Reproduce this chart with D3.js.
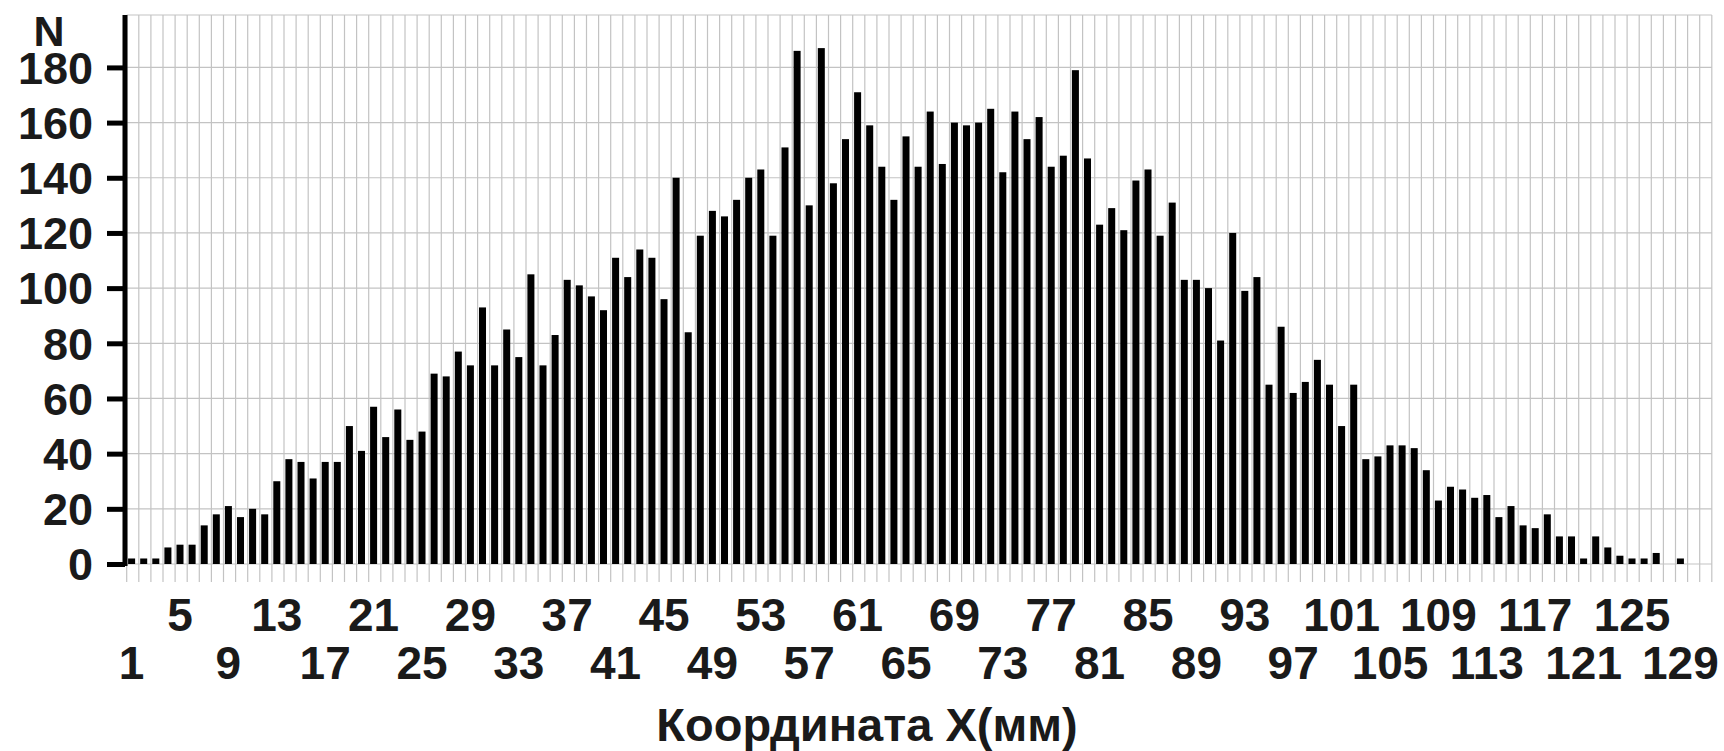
<!DOCTYPE html>
<html>
<head>
<meta charset="utf-8">
<script src="https://cdn.jsdelivr.net/npm/d3@7"></script>
<style>
  html, body { margin: 0; padding: 0; background: #ffffff; }
  svg { display: block; }
  text { font-family: "Liberation Sans", Arial, sans-serif; font-weight: bold; fill: #1a1a1a; }
</style>
</head>
<body>
<svg id="chart" width="1724" height="751"></svg>
<script>
// Counts per X coordinate bin (mm), bins 1..129
const bins = d3.range(1, 130);
const counts = [
  2, 2, 2, 6, 7, 7, 14, 18, 21, 17,
  20, 18, 30, 38, 37, 31, 37, 37, 50, 41,
  57, 46, 56, 45, 48, 69, 68, 77, 72, 93,
  72, 85, 75, 105, 72, 83, 103, 101, 97, 92,
  111, 104, 114, 111, 96, 140, 84, 119, 128, 126,
  132, 140, 143, 119, 151, 186, 130, 187, 138, 154,
  171, 159, 144, 132, 155, 144, 164, 145, 160, 159,
  160, 165, 142, 164, 154, 162, 144, 148, 179, 147,
  123, 129, 121, 139, 143, 119, 131, 103, 103, 100,
  81, 120, 99, 104, 65, 86, 62, 66, 74, 65,
  50, 65, 38, 39, 43, 43, 42, 34, 23, 28,
  27, 24, 25, 17, 21, 14, 13, 18, 10, 10,
  2, 10, 6, 3, 2, 2, 4, 0, 2
];
// grid slots along X (two empty slots after the last bin)
const slots = d3.range(1, 132);
// X tick labels in two staggered rows
const xLabelsTop = [5, 13, 21, 29, 37, 45, 53, 61, 69, 77, 85, 93, 101, 109, 117, 125];
const xLabelsBottom = [1, 9, 17, 25, 33, 41, 49, 57, 65, 73, 81, 89, 97, 105, 113, 121, 129];
const yTicks = [0, 20, 40, 60, 80, 100, 120, 140, 160, 180];

const data = bins.map((b, i) => ({ bin: b, n: counts[i] }));

const svg = d3.select("#chart");
const plotLeft = 126.7, plotRight = 1711.8, plotTop = 15, plotBottom = 564;

const x = d3.scaleBand().domain(slots).range([plotLeft, plotRight]).padding(0);
const y = d3.scaleLinear().domain([0, 199]).range([plotBottom, plotTop]);
const bw = x.bandwidth();

// grid
const grid = svg.append("g").attr("stroke", "#c3c3c3").attr("stroke-width", 1.2);
grid.selectAll("line.v")
  .data(slots.concat([null]))
  .join("line")
  .attr("class", "v")
  .attr("x1", d => d === null ? plotRight : x(d))
  .attr("x2", d => d === null ? plotRight : x(d))
  .attr("y1", plotTop)
  .attr("y2", plotBottom + 18);
grid.selectAll("line.h")
  .data(yTicks.concat([199]))
  .join("line")
  .attr("class", "h")
  .attr("x1", plotLeft)
  .attr("x2", plotRight)
  .attr("y1", d => y(d))
  .attr("y2", d => y(d));

// bars
svg.append("g")
  .selectAll("rect")
  .data(data)
  .join("rect")
  .attr("x", d => x(d.bin) + bw * 0.115)
  .attr("width", bw * 0.58)
  .attr("y", d => y(d.n))
  .attr("height", d => plotBottom - y(d.n))
  .attr("fill", "#000");

// y axis
const yAxis = svg.append("g")
  .attr("transform", `translate(${plotLeft - 1.7},0)`)
  .call(d3.axisLeft(y).tickValues(yTicks).tickSize(18).tickPadding(14).tickFormat(d3.format("d")));
yAxis.select(".domain").remove();
yAxis.selectAll(".tick line").attr("stroke", "#000").attr("stroke-width", 5);
yAxis.selectAll(".tick text")
  .attr("font-size", 45)
  .attr("font-family", "'Liberation Sans', Arial, sans-serif")
  .attr("font-weight", "bold")
  .attr("fill", "#1a1a1a")
  .attr("dy", "0.35em");
svg.append("line")
  .attr("x1", plotLeft - 1.7).attr("x2", plotLeft - 1.7)
  .attr("y1", plotTop).attr("y2", plotBottom + 2)
  .attr("stroke", "#000").attr("stroke-width", 5);

// axis letter
svg.append("text")
  .attr("x", 49).attr("y", 46)
  .attr("text-anchor", "middle")
  .attr("font-size", 43)
  .text("N");

// x labels
const labelX = d => x(d) + bw * 0.405;
svg.append("g").selectAll("text")
  .data(xLabelsTop)
  .join("text")
  .attr("x", labelX)
  .attr("y", 631)
  .attr("text-anchor", "middle")
  .attr("font-size", 46)
  .text(d => d);
svg.append("g").selectAll("text")
  .data(xLabelsBottom)
  .join("text")
  .attr("x", labelX)
  .attr("y", 679)
  .attr("text-anchor", "middle")
  .attr("font-size", 46)
  .text(d => d);

// x title
svg.append("text")
  .attr("x", 867).attr("y", 741)
  .attr("text-anchor", "middle")
  .attr("font-size", 47)
  .text("Координата X(мм)");
</script>
</body>
</html>
